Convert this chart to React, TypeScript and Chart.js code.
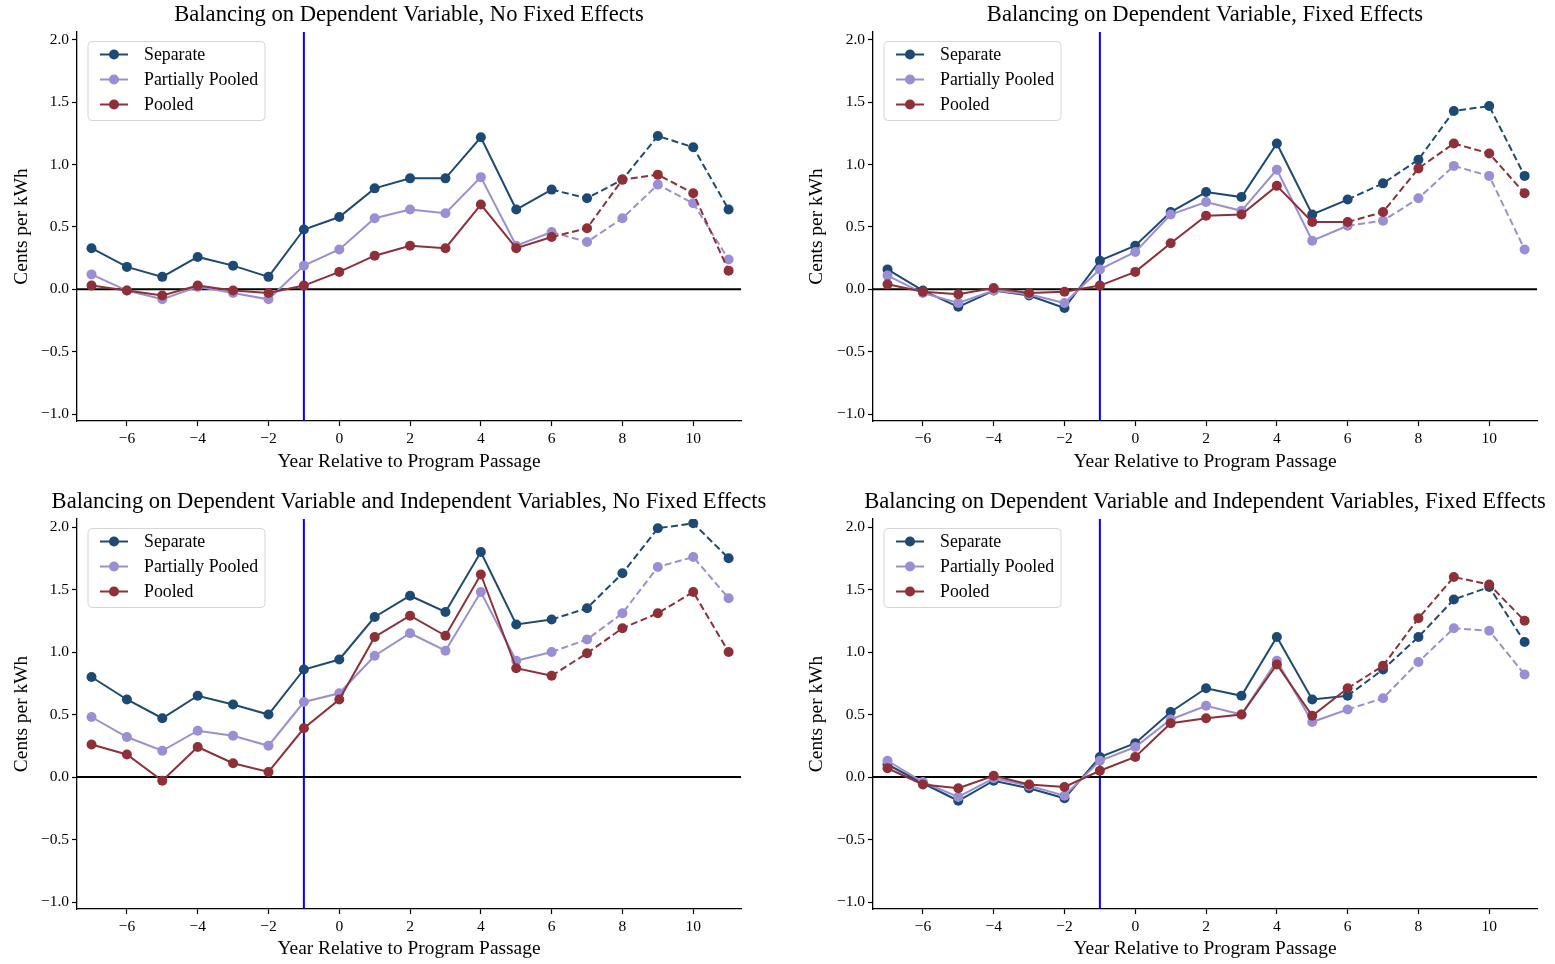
import React, { useEffect, useRef } from "react";
import { Chart, registerables } from "chart.js";

Chart.register(...registerables);

// ---------- data ----------
const years = [-7, -6, -5, -4, -3, -2, -1, 0, 1, 2, 3, 4, 5, 6, 7, 8, 9, 10, 11];
const xTickValues = [-6, -4, -2, 0, 2, 4, 6, 8, 10];
const yTickValues = [-1, -0.5, 0, 0.5, 1, 1.5, 2];
const seriesNames = ["Separate", "Partially Pooled", "Pooled"];
const seriesColors = ["#1c4a74", "#9a8fd4", "#8f2f38"];
const panelTitles = [
  "Balancing on Dependent Variable, No Fixed Effects",
  "Balancing on Dependent Variable, Fixed Effects",
  "Balancing on Dependent Variable and Independent Variables, No Fixed Effects",
  "Balancing on Dependent Variable and Independent Variables, Fixed Effects",
];
const xAxisLabel = "Year Relative to Program Passage";
const yAxisLabel = "Cents per kWh";
const passageYear = -1;
const dashedFromYear = 6;

// Panel 1: dependent variable, no fixed effects
const p1Separate = [0.33, 0.18, 0.1, 0.26, 0.19, 0.1, 0.48, 0.58, 0.81, 0.89, 0.89, 1.22, 0.64, 0.8, 0.73, 0.88, 1.23, 1.14, 0.64];
const p1Partial = [0.12, -0.01, -0.08, 0.02, -0.03, -0.08, 0.19, 0.32, 0.57, 0.64, 0.61, 0.9, 0.35, 0.46, 0.38, 0.57, 0.84, 0.69, 0.24];
const p1Pooled = [0.03, -0.01, -0.05, 0.03, -0.01, -0.03, 0.03, 0.14, 0.27, 0.35, 0.33, 0.68, 0.33, 0.42, 0.49, 0.88, 0.92, 0.77, 0.15];

// Panel 2: dependent variable, fixed effects
const p2Separate = [0.16, -0.01, -0.14, -0.01, -0.05, -0.15, 0.23, 0.35, 0.62, 0.78, 0.74, 1.17, 0.6, 0.72, 0.85, 1.04, 1.43, 1.47, 0.91];
const p2Partial = [0.11, -0.03, -0.11, -0.01, -0.04, -0.11, 0.16, 0.3, 0.6, 0.7, 0.63, 0.96, 0.39, 0.51, 0.55, 0.73, 0.99, 0.91, 0.32];
const p2Pooled = [0.04, -0.02, -0.04, 0.01, -0.03, -0.02, 0.03, 0.14, 0.37, 0.59, 0.6, 0.83, 0.54, 0.54, 0.62, 0.97, 1.17, 1.09, 0.77];

// Panel 3: dependent + independent variables, no fixed effects
const p3Separate = [0.8, 0.62, 0.47, 0.65, 0.58, 0.5, 0.86, 0.94, 1.28, 1.45, 1.32, 1.8, 1.22, 1.26, 1.35, 1.63, 1.99, 2.03, 1.75];
const p3Partial = [0.48, 0.32, 0.21, 0.37, 0.33, 0.25, 0.6, 0.67, 0.97, 1.15, 1.01, 1.48, 0.93, 1.0, 1.1, 1.31, 1.68, 1.76, 1.43];
const p3Pooled = [0.26, 0.18, -0.03, 0.24, 0.11, 0.04, 0.39, 0.62, 1.12, 1.29, 1.13, 1.62, 0.87, 0.81, 0.99, 1.19, 1.31, 1.48, 1.0];

// Panel 4: dependent + independent variables, fixed effects
const p4Separate = [0.1, -0.05, -0.19, -0.03, -0.09, -0.17, 0.16, 0.27, 0.52, 0.71, 0.65, 1.12, 0.62, 0.65, 0.86, 1.12, 1.42, 1.52, 1.08];
const p4Partial = [0.13, -0.04, -0.16, -0.01, -0.07, -0.15, 0.13, 0.24, 0.46, 0.57, 0.5, 0.93, 0.44, 0.54, 0.63, 0.92, 1.19, 1.17, 0.82];
const p4Pooled = [0.07, -0.06, -0.09, 0.01, -0.06, -0.08, 0.05, 0.16, 0.43, 0.47, 0.5, 0.9, 0.49, 0.71, 0.89, 1.27, 1.6, 1.54, 1.25];

// ---------- layout ----------
const FONT = "'Liberation Serif', 'Times New Roman', Times, serif";
const CW = 777;
const CH = 482;
const X_MIN = -7.41;
const X_MAX = 11.35;
const Y_MIN = -1.056;
const Y_MAX = 2.064;

type Geo = {
  left: number; top: number;
  areaLeft: number; areaRight: number; areaTop: number; areaBottom: number;
  yTitlePad: number; xTitlePad: number;
};

const geos: Geo[] = [
  { left: 0, top: 0, areaLeft: 77, areaRight: 741, areaTop: 32, areaBottom: 421, yTitlePad: 10.4, xTitlePad: 8.4 },
  { left: 778, top: 0, areaLeft: 95, areaRight: 759, areaTop: 32, areaBottom: 421, yTitlePad: 27.4, xTitlePad: 8.4 },
  { left: 0, top: 482, areaLeft: 77, areaRight: 741, areaTop: 37, areaBottom: 427, yTitlePad: 10.4, xTitlePad: 3.4 },
  { left: 778, top: 482, areaLeft: 95, areaRight: 759, areaTop: 37, areaBottom: 427, yTitlePad: 27.4, xTitlePad: 3.4 },
];

const panelSeries = [
  [p1Separate, p1Partial, p1Pooled],
  [p2Separate, p2Partial, p2Pooled],
  [p3Separate, p3Partial, p3Pooled],
  [p4Separate, p4Partial, p4Pooled],
];

const fmtNum = (v: number, digits: number) =>
  v < 0 ? "\u2212" + Math.abs(v).toFixed(digits) : v.toFixed(digits);

function Panel({ idx }: { idx: number }) {
  const ref = useRef<HTMLCanvasElement | null>(null);
  const g = geos[idx];
  useEffect(() => {
    const canvas = ref.current;
    if (!canvas) return;
    const series = panelSeries[idx];
    const title = panelTitles[idx];

    const refLines = {
      id: "refLines",
      beforeDatasetsDraw(chart: any) {
        const { ctx, chartArea, scales } = chart;
        ctx.save();
        const xp = scales.x.getPixelForValue(passageYear);
        ctx.strokeStyle = "#0000ff";
        ctx.lineWidth = 2;
        ctx.beginPath();
        ctx.moveTo(xp, chartArea.top);
        ctx.lineTo(xp, chartArea.bottom);
        ctx.stroke();
        const yp = scales.y.getPixelForValue(0);
        ctx.strokeStyle = "#000000";
        ctx.lineWidth = 2;
        ctx.beginPath();
        ctx.moveTo(chartArea.left, yp);
        ctx.lineTo(chartArea.right, yp);
        ctx.stroke();
        ctx.restore();
      },
    };

    const overlay = {
      id: "overlay",
      afterDraw(chart: any) {
        const { ctx, chartArea } = chart;
        ctx.save();
        // title
        ctx.fillStyle = "#000";
        ctx.font = `22.6px ${FONT}`;
        ctx.textAlign = "center";
        ctx.textBaseline = "middle";
        ctx.fillText(title, (chartArea.left + chartArea.right) / 2, chartArea.top - 16.5);
        // legend
        const bx = chartArea.left + 11;
        const by = chartArea.top + 9.5;
        const bw = 177;
        const bh = 79;
        ctx.beginPath();
        ctx.roundRect(bx, by, bw, bh, 4);
        ctx.fillStyle = "rgba(255,255,255,0.85)";
        ctx.fill();
        ctx.strokeStyle = "#d5d5d5";
        ctx.lineWidth = 1;
        ctx.stroke();
        chart.data.datasets.forEach((ds: any, i: number) => {
          const ry = by + 13 + i * 25;
          ctx.strokeStyle = ds.borderColor;
          ctx.lineWidth = 2;
          ctx.setLineDash([]);
          ctx.beginPath();
          ctx.moveTo(bx + 12, ry);
          ctx.lineTo(bx + 40, ry);
          ctx.stroke();
          ctx.fillStyle = ds.borderColor;
          ctx.beginPath();
          ctx.arc(bx + 26, ry, 5, 0, Math.PI * 2);
          ctx.fill();
          ctx.fillStyle = "#000";
          ctx.font = `17.8px ${FONT}`;
          ctx.textAlign = "left";
          ctx.textBaseline = "middle";
          ctx.fillText(ds.label, bx + 56, ry + 1);
        });
        ctx.restore();
      },
    };

    const chart = new Chart(canvas, {
      type: "line",
      data: {
        datasets: seriesNames.map((name, si) => ({
          label: name,
          data: years.map((yr, k) => ({ x: yr, y: series[si][k] })),
          borderColor: seriesColors[si],
          backgroundColor: seriesColors[si],
          pointBackgroundColor: seriesColors[si],
          pointBorderColor: seriesColors[si],
          pointRadius: 5,
          pointBorderWidth: 0,
          borderWidth: 2,
          tension: 0,
          fill: false,
          order: 2 - si,
          segment: {
            borderDash: (c: any) => (c.p0.parsed.x >= dashedFromYear ? [7, 3.5] : undefined),
          },
        })),
      },
      options: {
        animation: false,
        responsive: false,
        devicePixelRatio: 1,
        layout: {
          padding: { left: 0, top: g.areaTop, right: CW - g.areaRight, bottom: 0 },
        },
        plugins: {
          legend: { display: false },
          title: { display: false },
          tooltip: { enabled: false },
        },
        scales: {
          x: {
            type: "linear",
            min: X_MIN,
            max: X_MAX,
            afterBuildTicks: (s: any) => {
              s.ticks = xTickValues.map((v) => ({ value: v }));
            },
            afterFit: (s: any) => {
              s.height = CH - g.areaBottom;
            },
            ticks: {
              callback: (v: any) => fmtNum(Number(v), 0),
              color: "#000",
              font: { family: FONT, size: 15.5 },
              padding: 4,
              maxRotation: 0,
              autoSkip: false,
            },
            grid: {
              display: true,
              drawOnChartArea: false,
              drawTicks: true,
              tickLength: 5,
              tickColor: "#000",
              tickWidth: 1.2,
            },
            border: { display: true, color: "#000", width: 1.3 },
            title: {
              display: true,
              text: xAxisLabel,
              color: "#000",
              font: { family: FONT, size: 19.4 },
              padding: { top: 0, bottom: g.xTitlePad },
            },
          },
          y: {
            type: "linear",
            min: Y_MIN,
            max: Y_MAX,
            afterBuildTicks: (s: any) => {
              s.ticks = yTickValues.map((v) => ({ value: v }));
            },
            afterFit: (s: any) => {
              s.width = g.areaLeft;
            },
            ticks: {
              callback: (v: any) => fmtNum(Number(v), 1),
              color: "#000",
              font: { family: FONT, size: 15.5 },
              padding: 3,
            },
            grid: {
              display: true,
              drawOnChartArea: false,
              drawTicks: true,
              tickLength: 5,
              tickColor: "#000",
              tickWidth: 1.2,
            },
            border: { display: true, color: "#000", width: 1.3 },
            title: {
              display: true,
              text: yAxisLabel,
              color: "#000",
              font: { family: FONT, size: 19.4 },
              padding: { top: g.yTitlePad, bottom: 0 },
            },
          },
        },
      },
      plugins: [refLines, overlay],
    } as any);
    return () => chart.destroy();
  }, [idx]);

  return (
    <canvas
      ref={ref}
      width={CW}
      height={CH}
      style={{ position: "absolute", left: g.left, top: g.top, width: CW, height: CH, display: "block" }}
    />
  );
}

export default function App() {
  return (
    <div style={{ position: "absolute", left: 0, top: 0, width: 1555, height: 964, background: "#fff" }}>
      {[0, 1, 2, 3].map((i) => (
        <Panel key={i} idx={i} />
      ))}
    </div>
  );
}
